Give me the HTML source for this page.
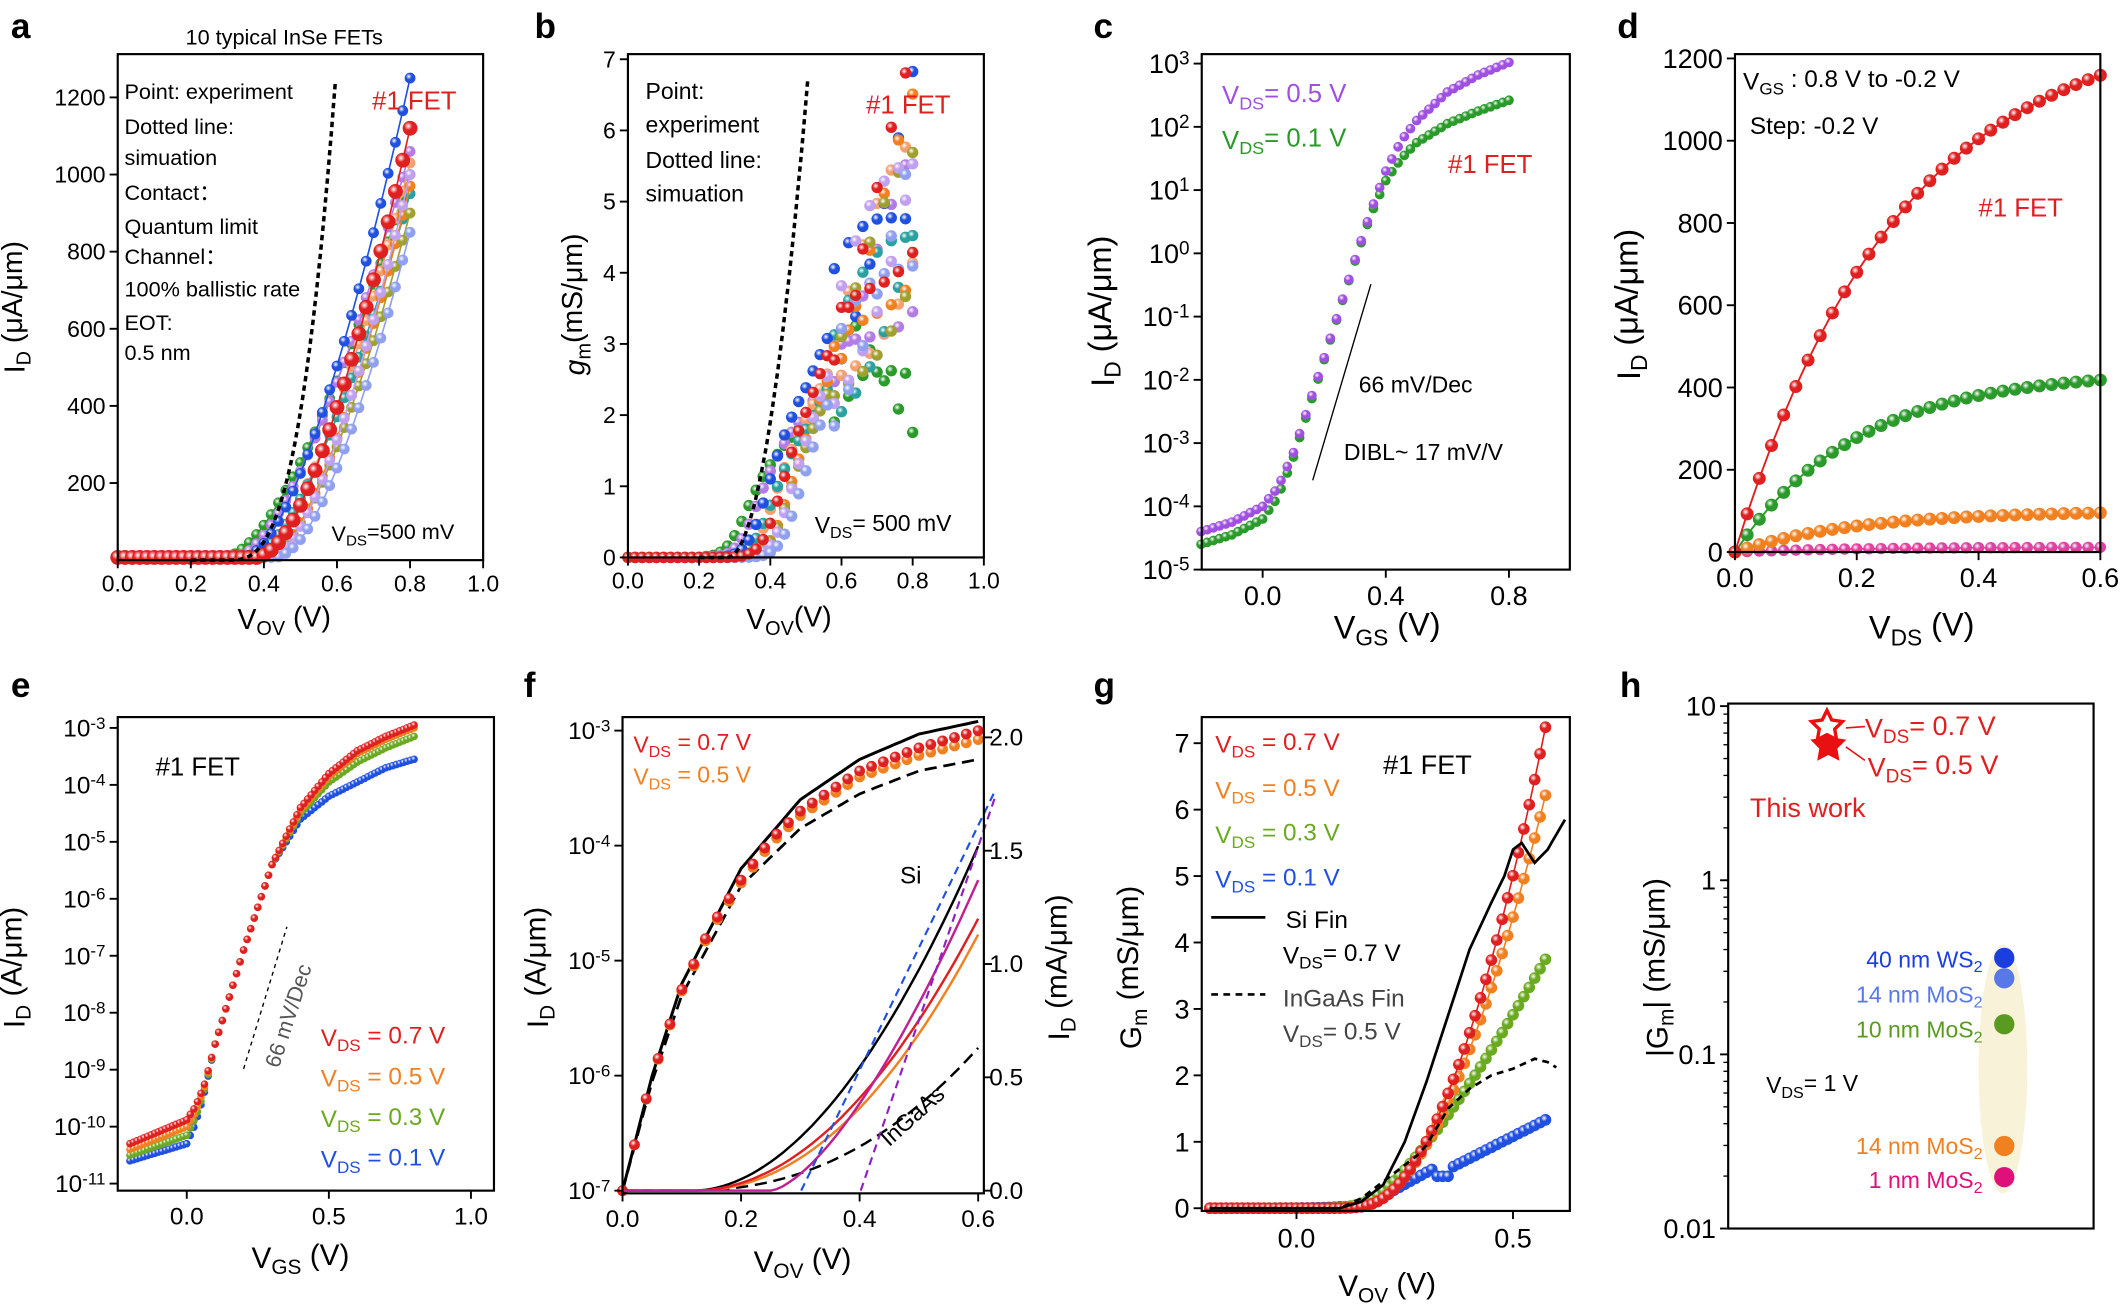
<!DOCTYPE html>
<html><head><meta charset="utf-8"><style>
html,body{margin:0;padding:0;background:#fff;}
svg{display:block;font-family:"Liberation Sans",Arial,sans-serif;}
</style></head><body>
<svg id="s" width="2122" height="1307" viewBox="0 0 1568 966" preserveAspectRatio="none" xmlns="http://www.w3.org/2000/svg"></svg>
<script>
let h='',defs='';const grads={};
function gid(c){if(!grads[c]){const id='g'+Object.keys(grads).length;grads[c]=id;defs+=`<radialGradient id="${id}" cx="0.38" cy="0.35" r="0.7"><stop offset="0" stop-color="#fff"/><stop offset="0.4" stop-color="${c}"/><stop offset="1" stop-color="${c}"/></radialGradient>`;}return grads[c];}
function ball(x,y,r,c){h+=`<circle cx="${x.toFixed(1)}" cy="${y.toFixed(1)}" r="${r}" fill="url(#${gid(c)})"/>`;}
function line(p,c,w,d){h+=`<polyline fill="none" stroke="${c}" stroke-width="${w}" ${d?`stroke-dasharray="${d}"`:''} points="${p.map(q=>q[0].toFixed(1)+','+q[1].toFixed(1)).join(' ')}"/>`;}
function t(x,y,s,o={}){h+=`<text x="${x}" y="${y}" font-size="${o.fs||17}" fill="${o.c||'#000'}" text-anchor="${o.a||'start'}" ${o.w?'font-weight="bold"':''} ${o.i?'font-style="italic"':''} ${o.r!=null?`transform="rotate(${o.r} ${x} ${y})"`:''}>${s}</text>`;}
function sub(a,b,c){return `${a}<tspan dy="0.3em" font-size="0.7em">${b}</tspan><tspan dy="-0.3em">${c}</tspan>`;}
function sup(a,b){return `${a}<tspan dy="-0.45em" font-size="0.7em">${b}</tspan>`;}
function box(x0,y0,x1,y1){h+=`<rect x="${x0}" y="${y0}" width="${x1-x0}" height="${y1-y0}" fill="none" stroke="#000" stroke-width="1.6"/>`;}
function xt(x0y,list,fs,off){list.forEach(([px,l])=>{h+=`<line x1="${px}" y1="${x0y}" x2="${px}" y2="${x0y+6}" stroke="#000" stroke-width="1.4"/>`;t(px,x0y+off,l,{fs,a:'middle'});});}
function yt(x0,list,fs,minor){list.forEach(([py,l])=>{h+=`<line x1="${x0-6}" y1="${py}" x2="${x0}" y2="${py}" stroke="#000" stroke-width="1.4"/>`;t(x0-9,py+fs*0.35,l,{fs,a:'end'});});(minor||[]).forEach(py=>{h+=`<line x1="${x0-3.5}" y1="${py}" x2="${x0}" y2="${py}" stroke="#000" stroke-width="1"/>`;});}
function interp(a,v){if(v<=a[0][0])return a[0][1];for(let i=1;i<a.length;i++){if(v<=a[i][0]){const f=(v-a[i-1][0])/(a[i][0]-a[i-1][0]);return a[i-1][1]+f*(a[i][1]-a[i-1][1]);}}return a[a.length-1][1];}
const sp=(x,s)=>s*Math.log(1+Math.exp(x/s));
const rng=i=>Math.sin(i*12.9898)*0.5;

/* ---------- a ---------- */
{const X=v=>87+v*270,Y=I=>414-I*0.285;
t(8,28,'a',{fs:26,w:1});t(210,33,'10 typical InSe FETs',{fs:16,a:'middle'});
const cs=[['#2a9a2a',.3,1000],['#b27be6',.33,1060],['#f4a070',.38,1030],['#2aa0a0',.37,950],['#2050e0',.36,1250],['#f08020',.42,970],['#a0a030',.42,900],['#c0a0f0',.43,1000],['#90a0f0',.45,850],['#e02020',.4,1120]];
cs.forEach(([c,v0,im],k)=>{const kk=im/Math.pow(sp(.8-v0,.03),1.5);const p=[];for(let v=0;v<=0.801;v+=0.02){let I=kk*Math.pow(sp(v-v0,.03),1.5);p.push([X(v),Y(I)]);}
line(p,c,1.2);const r=c=='#e02020'?5.5:4;p.forEach(q=>ball(q[0],Math.min(q[1],412),r,c));});
const d=[];for(let v=0.2;v<=0.6;v+=0.005){d.push([X(v),Y(1300*Math.pow(Math.max(0,(v-0.3)/0.3),3))]);}line(d,'#000',2.6,'4 3');
box(87,40,357,414);
xt(414,[0,.2,.4,.6,.8,1].map(v=>[X(v),v.toFixed(1)]),17,23);
yt(87,[200,400,600,800,1000,1200].map(v=>[Y(v),v]),17);
t(18,227,sub('I','D',' (μA/μm)'),{fs:21,a:'middle',r:-90});
t(210,465,sub('V','OV',' (V)'),{fs:21,a:'middle'});
const L=[['Point: experiment',73],['Dotted line:',99],['simuation',122],['Contact：',148],['Quantum limit',173],['Channel：',195],['100% ballistic rate',219],['EOT:',244],['0.5 nm',266]];
L.forEach(([s,y])=>t(92,y,s,{fs:16}));
t(275,81,'#1 FET',{fs:19,c:'#e02020'});t(245,400,sub('V','DS','=500 mV'),{fs:16});}

/* ---------- b ---------- */
{const X=v=>464+v*263,Y=g=>412-g*52.6;
t(395,28,'b',{fs:26,w:1});
const cs=[['#2a9a2a',.3,1000],['#b27be6',.33,1060],['#f4a070',.38,1030],['#2aa0a0',.37,950],['#2050e0',.36,1250],['#f08020',.42,970],['#a0a030',.42,900],['#c0a0f0',.43,1000],['#90a0f0',.45,850],['#e02020',.4,1120]];
cs.forEach(([c,v0,im],k)=>{const kk=im/Math.pow(sp(.8-v0,.03),1.5);let i=0;for(let v=0;v<=0.801;v+=0.02,i++){const s=sp(v-v0,.03);let g=1.5*kk*Math.sqrt(s)/(1+Math.exp(-(v-v0)/.03))/1000;
g*=1+Math.max(0,v-0.5)*1.2;
if(k==0)g=Math.min(g,2.85-Math.max(0,v-0.66)*5);if(v>0.58)g*=1+0.5*rng(i*7+k*13);ball(X(v),Math.max(Y(g),44),4.2,c);}});
const d=[];for(let v=0.2;v<=0.51;v+=0.005){d.push([X(v),Y(7*Math.pow(Math.max(0,(v-0.28)/0.23),2))]);}line(d,'#000',2.6,'4 3');
box(464,40,727,412);
xt(412,[0,.2,.4,.6,.8,1].map(v=>[X(v),v.toFixed(1)]),17,23);
yt(464,[0,1,2,3,4,5,6,7].map(v=>[Y(v),v]),17);
t(432,225,'<tspan font-style="italic">g</tspan><tspan dy="0.3em" font-size="0.7em">m</tspan><tspan dy="-0.3em">(mS/μm)</tspan>',{fs:21,a:'middle',r:-90});
t(583,465,sub('V','OV','(V)'),{fs:21,a:'middle'});
[['Point:',73],['experiment',98],['Dotted line:',124],['simuation',149]].forEach(([s,y])=>t(477,y,s,{fs:17}));
t(640,84,'#1 FET',{fs:19,c:'#e02020'});t(602,394,sub('V','DS','= 500 mV'),{fs:17});}

/* ---------- c ---------- */
{const X=v=>933+v*227.5,Y=l=>47+(3-l)*46.75;
t(808,28,'c',{fs:26,w:1});
const P=[[-0.2,-4.4],[-0.1,-4.25],[0,-4.0],[0.05,-3.7],[0.1,-3.15],[0.15,-2.4],[0.2,-1.65],[0.25,-0.88],[0.3,-0.1],[0.35,0.65],[0.4,1.3],[0.45,1.78],[0.5,2.1],[0.6,2.55],[0.7,2.82],[0.8,3.02]];
const G=[[-0.2,-4.6],[-0.1,-4.45],[0,-4.2],[0.05,-3.85],[0.1,-3.22],[0.15,-2.45],[0.2,-1.68],[0.25,-0.9],[0.3,-0.12],[0.35,0.6],[0.4,1.15],[0.45,1.5],[0.5,1.75],[0.6,2.05],[0.7,2.25],[0.8,2.42]];
[[G,'#2a9a2a'],[P,'#a050e0']].forEach(([A,c])=>{for(let v=-0.2;v<=0.801;v+=0.02)ball(X(v),Y(interp(A,v)),3.6,c);});
line([[970,355],[1013,210]],'#000',1);
box(888,40,1160,421);
xt(421,[0,.4,.8].map(v=>[X(v),v.toFixed(1)]),20,26);
yt(888,[3,2,1,0,-1,-2,-3,-4,-5].map(l=>[Y(l),sup('10',l)]),20);
t(823,230,sub('I','D',' (μA/μm)'),{fs:24,a:'middle',r:-90});
t(1025,472,sub('V','GS',' (V)'),{fs:24,a:'middle'});
t(903,77,sub('V','DS','= 0.5 V'),{fs:19,c:'#a050e0'});t(903,110,sub('V','DS','= 0.1 V'),{fs:19,c:'#2a9a2a'});
t(1070,128,'#1 FET',{fs:19,c:'#e02020'});t(1004,290,'66 mV/Dec',{fs:17});t(993,340,'DIBL~ 17 mV/V',{fs:17});}

/* ---------- d ---------- */
{const X=v=>1282+v*450,Y=I=>408-I*0.304;
t(1195,28,'d',{fs:26,w:1});
[['#e040a0',12,.2,4.2],['#f08020',100,.2,4.8],['#2a9a2a',440,.2,4.8],['#e02020',1300,.27,4.8]].forEach(([c,m,ta,r])=>{const p=[];for(let v=0;v<=0.6001;v+=0.02)p.push([X(v),Y(m*(1-Math.exp(-v/ta)))]);line(p,c,1.4);p.forEach(q=>ball(q[0],q[1],r,c));});
box(1282,40,1552,408);
xt(408,[0,.2,.4,.6].map(v=>[X(v),v.toFixed(1)]),20,26);
yt(1282,[0,200,400,600,800,1000,1200].map(v=>[Y(v),v]),20);
t(1212,225,sub('I','D',' (μA/μm)'),{fs:24,a:'middle',r:-90});
t(1420,472,sub('V','DS',' (V)'),{fs:24,a:'middle'});
t(1288,66,sub('V','GS',' : 0.8 V to -0.2 V'),{fs:18});t(1293,99,'Step: -0.2 V',{fs:18});t(1462,160,'#1 FET',{fs:19,c:'#e02020'});}

/* ---------- e ---------- */
{const X=v=>138+v*210,Y=l=>538+(-3-l)*42.1;
t(8,515,'e',{fs:26,w:1});
const base=[[0.1,-8.55],[0.2,-6.9],[0.3,-5.4]];
const S=[['#2050e0',[[-0.2,-10.6],[0,-10.3],[0.03,-9.95],[0.06,-9.45],...base,[0.4,-4.6],[0.5,-4.2],[0.6,-3.95],[0.7,-3.7],[0.8,-3.55]]],
['#6aaa20',[[-0.2,-10.5],[0,-10.15],[0.03,-9.85],[0.06,-9.4],...base,[0.4,-4.5],[0.5,-3.95],[0.6,-3.6],[0.7,-3.35],[0.8,-3.15]]],
['#f08020',[[-0.2,-10.4],[0,-10.0],[0.03,-9.75],[0.06,-9.35],...base,[0.4,-4.45],[0.5,-3.85],[0.6,-3.45],[0.7,-3.2],[0.8,-3.0]]],
['#e02020',[[-0.2,-10.3],[0,-9.88],[0.03,-9.65],[0.06,-9.3],...base,[0.4,-4.4],[0.5,-3.8],[0.6,-3.4],[0.7,-3.15],[0.8,-2.95]]]];
S.forEach(([c,A])=>{for(let v=-0.2;v<=0.801;v+=0.0125)ball(X(v),Y(interp(A,v)),2.8,c);});
line([[180,790],[212,685]],'#000',1,'3 3');
box(87,530,365,880);
xt(880,[0,.5,1].map(v=>[X(v),v.toFixed(1)]),18,25);
yt(87,[-3,-4,-5,-6,-7,-8,-9,-10,-11].map(l=>[Y(l),sup('10',l)]),18);
t(18,715,sub('I','D',' (A/μm)'),{fs:22,a:'middle',r:-90});
t(222,937,sub('V','GS',' (V)'),{fs:22,a:'middle'});
t(115,573,'#1 FET',{fs:19});
t(206,790,'66 mV/Dec',{fs:16,c:'#555',r:-72});
[['0.7','#e02020',773],['0.5','#f08020',803],['0.3','#6aaa20',833],['0.1','#2050e0',863]].forEach(([v,c,y])=>t(237,y,sub('V','DS',' = '+v+' V'),{fs:18,c}));}

/* ---------- f ---------- */
{const X=v=>460+v*438,Y=l=>880+(-7-l)*85,YR=m=>880-m*167.5;
t(387,515,'f',{fs:26,w:1});
const R=[[0,-7],[0.02,-6.6],[0.05,-6.0],[0.1,-5.25],[0.15,-4.7],[0.2,-4.3],[0.25,-3.95],[0.3,-3.7],[0.4,-3.35],[0.5,-3.15],[0.6,-3.0]];
const O=R.map(([v,l])=>[v,l-0.13*v]);
const B=[[0,-7],[0.05,-6.0],[0.1,-5.2],[0.2,-4.2],[0.3,-3.6],[0.4,-3.25],[0.5,-3.03],[0.6,-2.92]];
const D=[[0,-7],[0.05,-6.05],[0.1,-5.3],[0.2,-4.35],[0.3,-3.85],[0.4,-3.55],[0.5,-3.35],[0.6,-3.25]];
const cur=(A)=>{const p=[];for(let v=0;v<=0.6001;v+=0.01)p.push([X(v),Y(interp(A,v))]);return p;};
line(cur(B),'#000',2.2);line(cur(D),'#000',2,'9 5');
for(let v=0;v<=0.6001;v+=0.02)ball(X(v),Y(interp(O,v)),4,'#f08020');
for(let v=0;v<=0.6001;v+=0.02)ball(X(v),Y(interp(R,v)),4,'#e02020');
const lin=(f)=>{const p=[];for(let v=0;v<=0.6001;v+=0.01)p.push([X(v),YR(f(v))]);return p;};
line(lin(v=>1.52*Math.pow(Math.max(0,(v-0.12)/0.48),1.9)),'#000',1.8);
line(lin(v=>0.63*Math.pow(Math.max(0,(v-0.1)/0.5),2.3)),'#000',1.8,'9 5');
line(lin(v=>1.13*Math.pow(Math.max(0,(v-0.12)/0.48),2.1)),'#f08020',1.8);
line(lin(v=>1.2*Math.pow(Math.max(0,(v-0.12)/0.48),2.0)),'#e02020',1.8);
line(lin(v=>1.37*Math.pow(Math.max(0,(v-0.25)/0.35),1.5)),'#c02090',1.8);
line([[592,880],[735,585]],'#2050e0',1.6,'6 4');line([[636,880],[735,590]],'#9020c0',1.6,'6 4');
box(460,530,727,882);
xt(882,[0,.2,.4,.6].map(v=>[X(v),v.toFixed(1)]),18,25);
yt(460,[-3,-4,-5,-6,-7].map(l=>[Y(l),sup('10',l)]),18);
[0,.5,1,1.5,2].forEach(m=>{h+=`<line x1="727" y1="${YR(m)}" x2="733" y2="${YR(m)}" stroke="#000" stroke-width="1.4"/>`;t(731,YR(m)+6,m.toFixed(1),{fs:18});});
t(405,715,sub('I','D',' (A/μm)'),{fs:22,a:'middle',r:-90});
t(790,715,sub('I','D',' (mA/μm)'),{fs:22,a:'middle',r:-90});
t(593,940,sub('V','OV',' (V)'),{fs:22,a:'middle'});
t(468,556,sub('V','DS',' = 0.7 V'),{fs:17,c:'#e02020'});t(468,580,sub('V','DS',' = 0.5 V'),{fs:17,c:'#f08020'});
t(665,653,'Si',{fs:18});t(657,848,'InGaAs',{fs:17,r:-42});}

/* ---------- g ---------- */
{const X=v=>958+v*320,Y=g=>893-g*49.1;
t(808,515,'g',{fs:26,w:1});
const Si=[[-0.2,0],[0.1,0],[0.15,0.1],[0.2,0.35],[0.25,1.0],[0.3,1.9],[0.35,2.9],[0.4,3.9],[0.45,4.6],[0.48,5.0],[0.5,5.4],[0.52,5.5],[0.55,5.2],[0.58,5.4],[0.62,5.85]];
const In=[[-0.2,0],[0.1,0],[0.15,0.15],[0.2,0.4],[0.25,0.65],[0.28,0.8],[0.3,0.95],[0.35,1.5],[0.4,1.8],[0.45,2.0],[0.5,2.1],[0.55,2.25],[0.58,2.2],[0.6,2.12]];
const cur=(A,hi)=>{const p=[];for(let v=-0.2;v<=hi+1e-4;v+=0.01)p.push([X(v),Y(interp(A,v))]);return p;};
const fb=v=>{if(v<0.1)return 0.02*Math.exp((v-0.1)*20);if(v<0.32)return Math.max(0.02,3.6*(v-0.15));if(v<0.36)return 0.48;return 0.62+(v-0.36)*3.3;};
const fp=(a,p)=>v=>a*Math.pow(sp(v-0.15,0.03),p);
[['#2050e0',fb],['#6aaa20',fp(11.4,1.3)],['#f08020',fp(29,1.8)],['#e02020',fp(36.8,1.9)]].forEach(([c,f])=>{const p=[];for(let v=-0.2;v<=0.576;v+=0.0125)p.push([X(v),Y(f(v))]);line(p,c,1.2);p.forEach(q=>ball(q[0],q[1],4.3,c));});
line(cur(Si,0.625),'#000',2);line(cur(In,0.6),'#000',2,'5 4');
box(888,530,1160,895);
xt(895,[0,.5].map(v=>[X(v),v.toFixed(1)]),20,27);
yt(888,[0,1,2,3,4,5,6,7].map(v=>[Y(v),v]),20);
t(843,715,sub('G','m',' (mS/μm)'),{fs:22,a:'middle',r:-90});
t(1025,958,sub('V','OV',' (V)'),{fs:22,a:'middle'});
[['0.7','#e02020',556],['0.5','#f08020',590],['0.3','#6aaa20',623],['0.1','#2050e0',656]].forEach(([v,c,y])=>t(898,y,sub('V','DS',' = '+v+' V'),{fs:18,c}));
t(1022,572,'#1 FET',{fs:20});
line([[895,678],[935,678]],'#000',2);t(950,686,'Si Fin',{fs:18});t(948,712,sub('V','DS','= 0.7 V'),{fs:18});
line([[895,735],[935,735]],'#000',2,'5 4');t(948,744,'InGaAs Fin',{fs:18,c:'#444'});t(948,770,sub('V','DS','= 0.5 V'),{fs:18,c:'#444'});}

/* ---------- h ---------- */
{const Y=l=>908-(l+2)*128.7;
t(1197,515,'h',{fs:26,w:1});
h+=`<ellipse cx="1480" cy="790" rx="18" ry="92" fill="#f8f3d8"/>`;
const minor=[];for(let d=-2;d<1;d++)for(let m=2;m<=9;m++)minor.push(Y(d+Math.log10(m)));
box(1277,520,1547,908);
yt(1277,[[Y(1),'10'],[Y(0),'1'],[Y(-1),'0.1'],[Y(-2),'0.01']],20,minor);
t(1232,715,'|G<tspan dy="0.3em" font-size="0.7em">m</tspan><tspan dy="-0.3em">| (mS/μm)</tspan>',{fs:22,a:'middle',r:-90});
function star(cx,cy,R,r){let p=[];for(let i=0;i<10;i++){const a=-Math.PI/2+i*Math.PI/5,rr=i%2?r:R;p.push((cx+rr*Math.cos(a)).toFixed(1)+','+(cy+rr*Math.sin(a)).toFixed(1));}return p.join(' ');}
h+=`<polygon points="${star(1351,551,14,7)}" fill="#e81010"/>`;
h+=`<polygon points="${star(1350,537,12,6)}" fill="#fff" stroke="#e81010" stroke-width="2.5"/>`;
line([[1364,538],[1378,537]],'#e81010',1.2);line([[1364,552],[1378,562]],'#e81010',1.2);
t(1378,545,sub('V','DS','= 0.7 V'),{fs:20,c:'#e02020'});t(1380,574,sub('V','DS','= 0.5 V'),{fs:20,c:'#e02020'});
t(1293,604,'This work',{fs:20,c:'#e02020'});
[['40 nm WS','#1a3ee0',708,715],['14 nm MoS','#5878e8',723,741],['10 nm MoS','#5a9a20',757,767],['14 nm MoS','#f08020',847,853],['1 nm MoS','#e0107a',870,878]].forEach(([s,c,yd,yl])=>{h+=`<circle cx="1481" cy="${yd}" r="7.5" fill="${c}"/>`;t(1465,yl,s+'<tspan dy="0.3em" font-size="0.7em">2</tspan>',{fs:17,c,a:'end'});});
t(1305,808,sub('V','DS','= 1 V'),{fs:17});}

document.getElementById('s').innerHTML='<defs>'+defs+'</defs>'+h;
</script>
</body></html>
